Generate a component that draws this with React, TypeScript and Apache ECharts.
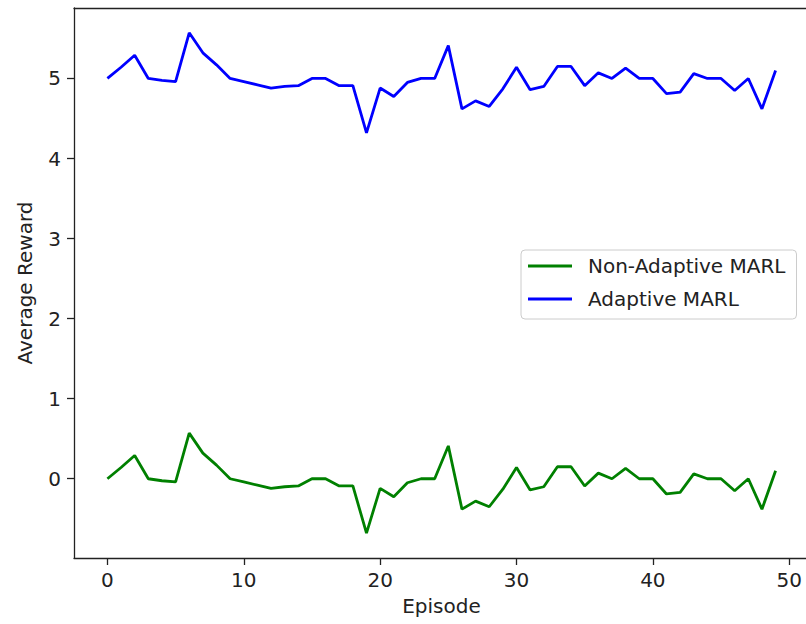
import React, { useEffect, useRef } from "react";
import * as echarts from "echarts";

const episodes: number[] = Array.from({ length: 50 }, (_, i) => i);
const nonAdaptive: number[] = [
  0.0, 0.14, 0.29, 0.0, -0.025, -0.04, 0.57, 0.32, 0.17, 0.0,
  -0.04, -0.08, -0.12, -0.1, -0.09, 0.0, 0.0, -0.09, -0.09, -0.68,
  -0.12, -0.225, -0.05, 0.0, 0.0, 0.41, -0.38, -0.28, -0.35, -0.13,
  0.14, -0.14, -0.1, 0.15, 0.15, -0.09, 0.07, 0.0, 0.13, 0.0,
  0.0, -0.19, -0.17, 0.06, 0.0, 0.0, -0.15, 0.0, -0.38, 0.1,
];
const adaptive: number[] = [
  5.0, 5.14, 5.29, 5.0, 4.975, 4.96, 5.57, 5.32, 5.17, 5.0,
  4.96, 4.92, 4.88, 4.9, 4.91, 5.0, 5.0, 4.91, 4.91, 4.32,
  4.88, 4.775, 4.95, 5.0, 5.0, 5.41, 4.62, 4.72, 4.65, 4.87,
  5.14, 4.86, 4.9, 5.15, 5.15, 4.91, 5.07, 5.0, 5.13, 5.0,
  5.0, 4.81, 4.83, 5.06, 5.0, 5.0, 4.85, 5.0, 4.62, 5.1,
];
const xTicks: number[] = [0, 10, 20, 30, 40, 50];
const yTicks: number[] = [0, 1, 2, 3, 4, 5];

const FONT = "DejaVu Sans";
const INK = "#222222";

export default function App() {
  const ref = useRef<HTMLDivElement>(null);
  useEffect(() => {
    if (!ref.current) return;
    const chart = echarts.init(ref.current, undefined, { renderer: "svg" });
    const pair = (ys: number[]) => episodes.map((x, i) => [x, ys[i]]);
    const axisLine = {
      show: true,
      onZero: false,
      lineStyle: { color: INK, width: 1.3 },
    };
    chart.setOption({
      animation: false,
      backgroundColor: "#ffffff",
      textStyle: { fontFamily: FONT },
      grid: {
        left: 74,
        top: 8,
        width: 735,
        height: 550,
        containLabel: false,
        outerBoundsMode: "none",
      },
      legend: {
        orient: "vertical",
        left: 521,
        top: 250,
        padding: [6, 11, 10, 7],
        icon: "rect",
        itemWidth: 44,
        itemHeight: 3,
        itemGap: 13,
        borderColor: "#cccccc",
        borderWidth: 1,
        borderRadius: 4,
        backgroundColor: "#ffffff",
        textStyle: {
          fontFamily: FONT,
          fontSize: 20,
          color: INK,
          padding: [0, 0, 0, 11],
        },
        data: ["Non-Adaptive MARL", "Adaptive MARL"],
      },
      xAxis: [
        {
          type: "value",
          min: -2.45,
          max: 51.45,
          name: "Episode",
          nameLocation: "middle",
          nameGap: 38,
          nameTextStyle: { fontFamily: FONT, fontSize: 20, color: INK },
          axisLine,
          axisTick: {
            show: true,
            length: 7,
            customValues: xTicks,
            lineStyle: { color: INK, width: 1.3 },
          },
          axisLabel: {
            customValues: xTicks,
            fontFamily: FONT,
            fontSize: 20,
            color: INK,
            margin: 12,
          },
          splitLine: { show: false },
        },
        {
          type: "value",
          position: "top",
          min: -2.45,
          max: 51.45,
          axisLine,
          axisTick: { show: false },
          axisLabel: { show: false },
          splitLine: { show: false },
        },
      ],
      yAxis: [
        {
          type: "value",
          min: -0.99,
          max: 5.88,
          name: "Average Reward",
          nameLocation: "middle",
          nameGap: 39,
          nameTextStyle: { fontFamily: FONT, fontSize: 20, color: INK },
          axisLine,
          axisTick: {
            show: true,
            length: 7,
            customValues: yTicks,
            lineStyle: { color: INK, width: 1.3 },
          },
          axisLabel: {
            customValues: yTicks,
            fontFamily: FONT,
            fontSize: 20,
            color: INK,
            margin: 13,
          },
          splitLine: { show: false },
        },
        {
          type: "value",
          position: "right",
          min: -0.99,
          max: 5.88,
          axisLine,
          axisTick: { show: false },
          axisLabel: { show: false },
          splitLine: { show: false },
        },
      ],
      series: [
        {
          name: "Non-Adaptive MARL",
          type: "line",
          data: pair(nonAdaptive),
          symbol: "none",
          color: "#008000",
          lineStyle: { color: "#008000", width: 2.8 },
        },
        {
          name: "Adaptive MARL",
          type: "line",
          data: pair(adaptive),
          symbol: "none",
          color: "#0000ff",
          lineStyle: { color: "#0000ff", width: 2.8 },
        },
      ],
    });
    return () => chart.dispose();
  }, []);
  return (
    <div
      ref={ref}
      style={{ position: "fixed", left: 0, top: 0, width: 806, height: 624 }}
    />
  );
}
